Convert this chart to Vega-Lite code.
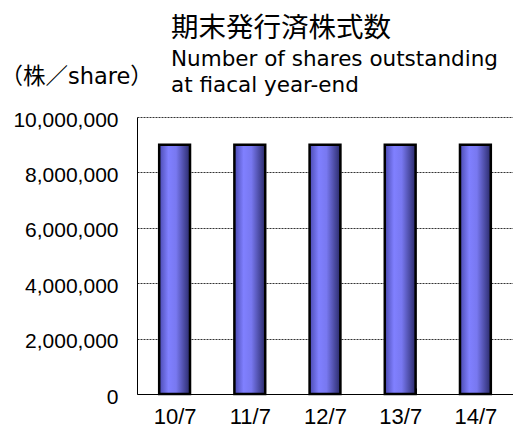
{
  "$schema": "https://vega.github.io/schema/vega-lite/v6.json",
  "autosize": "none",
  "width": 376,
  "height": 277,
  "padding": {"left": 137, "top": 117, "right": 0, "bottom": 38},
  "background": "white",
  "title": {
    "text": "期末発行済株式数",
    "subtitle": ["Number of shares outstanding", "at fiacal year-end"],
    "anchor": "start",
    "frame": "group",
    "dx": 34,
    "dy": 31,
    "offset": 0,
    "font": "Noto Sans CJK JP",
    "fontSize": 27.5,
    "fontWeight": "normal",
    "color": "black",
    "subtitleFont": "DejaVu Sans",
    "subtitleFontSize": 21.5,
    "subtitleColor": "black",
    "subtitleLineHeight": 26,
    "subtitlePadding": 6
  },
  "config": {
    "view": {"stroke": null},
    "font": "Liberation Sans"
  },
  "data": {
    "values": [
      {"year": "10/7", "shares": 9000000},
      {"year": "11/7", "shares": 9000000},
      {"year": "12/7", "shares": 9000000},
      {"year": "13/7", "shares": 9000000},
      {"year": "14/7", "shares": 9000000}
    ]
  },
  "mark": {
    "type": "bar",
    "stroke": "black",
    "strokeWidth": 2.5,
    "color": {
      "gradient": "linear",
      "x1": 0, "x2": 1, "y1": 0, "y2": 0,
      "stops": [
        {"offset": 0, "color": "#4a4ab0"},
        {"offset": 0.3, "color": "#8080ff"},
        {"offset": 0.55, "color": "#7878f0"},
        {"offset": 1, "color": "#2a2a6a"}
      ]
    }
  },
  "encoding": {
    "x": {
      "field": "year",
      "type": "nominal",
      "sort": null,
      "scale": {"paddingInner": 0.59, "paddingOuter": 0.295},
      "axis": {
        "title": null,
        "labelAngle": 0,
        "labelFont": "Liberation Sans",
        "labelFontSize": 22,
        "labelColor": "black",
        "labelPadding": 18,
        "domainColor": "black",
        "domainWidth": 1,
        "tickBand": "extent",
        "tickColor": "black",
        "tickWidth": 1,
        "tickSize": -6,
        "grid": false
      }
    },
    "y": {
      "field": "shares",
      "type": "quantitative",
      "scale": {"domain": [0, 10000000]},
      "axis": {
        "values": [0, 2000000, 4000000, 6000000, 8000000, 10000000],
        "format": ",d",
        "title": "（株／share）",
        "titleFont": "DejaVu Sans, Noto Sans CJK JP",
        "titleAngle": 0,
        "titleX": -137,
        "titleY": -41,
        "titleAlign": "left",
        "titleBaseline": "middle",
        "titleFontSize": 22.5,
        "titleFontWeight": "normal",
        "titleColor": "black",
        "labelFont": "Liberation Sans",
        "labelFontSize": 21,
        "labelColor": "black",
        "labelPadding": 19,
        "labelOffset": 3,
        "ticks": false,
        "domainColor": "black",
        "domainWidth": 1,
        "grid": true,
        "gridColor": "#333333",
        "gridDash": [2, 1],
        "gridWidth": 1
      }
    }
  }
}
